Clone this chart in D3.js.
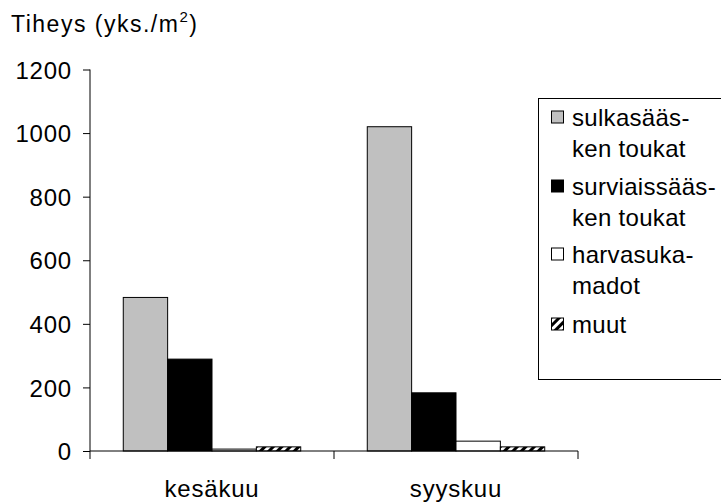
<!DOCTYPE html>
<html>
<head>
<meta charset="utf-8">
<script src="https://cdn.jsdelivr.net/npm/d3@7"></script>
<style>
  body { margin: 0; background: #fff; }
  text { font-family: "Liberation Sans", Arial, sans-serif; fill: #000; }
</style>
</head>
<body>
<div id="chart"></div>
<script>
// data
var categories = ["kesäkuu", "syyskuu"];
var seriesNames = ["sulkasääsken toukat", "surviaissääsken toukat", "harvasukamadot", "muut"];
var legendLines = [["sulkasääs-", "ken toukat"], ["surviaissääs-", "ken toukat"], ["harvasuka-", "madot"], ["muut"]];
var sulkasaasket = [483, 1020];
var surviaissaasket = [289, 183];
var harvasukamadot = [6, 31];
var muut = [13, 13];
var yTicks = [0, 200, 400, 600, 800, 1000, 1200];

var values = [sulkasaasket, surviaissaasket, harvasukamadot, muut];
var fills = ["#c0c0c0", "#000000", "#ffffff", "url(#hatch)"];

var width = 721, height = 504;
var plot = { left: 90, right: 578, top: 69.5, bottom: 451 };
var fontSize = "24px";

var svg = d3.select("#chart")
  .append("svg")
  .attr("width", width)
  .attr("height", height);

// diagonal hatch for "muut"
var pat = svg.append("defs").append("pattern")
  .attr("id", "hatch")
  .attr("patternUnits", "userSpaceOnUse")
  .attr("width", 6)
  .attr("height", 6)
  .attr("patternTransform", "rotate(45)");
pat.append("rect").attr("width", 6).attr("height", 6).attr("fill", "#fff");
pat.append("rect").attr("width", 3).attr("height", 6).attr("fill", "#000");

var x0 = d3.scaleBand()
  .domain(categories)
  .range([plot.left, plot.right]);

var x1 = d3.scaleBand()
  .domain(d3.range(seriesNames.length))
  .range([0, x0.bandwidth()])
  .paddingInner(0)
  .paddingOuter(0.75);

var y = d3.scaleLinear()
  .domain([0, 1200])
  .range([plot.bottom, plot.top]);

// y title
var title = svg.append("text")
  .attr("x", 11)
  .attr("y", 32)
  .style("font-size", "23px")
  .style("letter-spacing", "1.5px");
title.append("tspan").text("Tiheys (yks./m");
title.append("tspan").attr("dy", -10).style("font-size", "15px").text("2");
title.append("tspan").attr("dy", 10).text(")");

// bars
var groups = svg.selectAll(".cat")
  .data(categories)
  .enter().append("g")
  .attr("class", "cat")
  .attr("transform", function(d) { return "translate(" + x0(d) + ",0)"; });

groups.selectAll("rect")
  .data(function(d, ci) {
    return values.map(function(v, si) { return { s: si, v: v[ci] }; });
  })
  .enter().append("rect")
  .attr("x", function(d) { return x1(d.s); })
  .attr("y", function(d) { return y(d.v); })
  .attr("width", x1.bandwidth())
  .attr("height", function(d) { return y(0) - y(d.v); })
  .attr("fill", function(d) { return fills[d.s]; })
  .attr("stroke", "#000")
  .attr("stroke-width", 1);

// y axis
var yAxis = svg.append("g")
  .attr("transform", "translate(" + plot.left + ",0)")
  .call(d3.axisLeft(y).tickValues(yTicks).tickSize(7).tickPadding(11).tickFormat(d3.format("d")));
yAxis.selectAll("text").style("font-size", fontSize).style("letter-spacing", "0.8px").attr("dy", "0.36em");
yAxis.select(".domain").attr("d", "M0," + plot.top + "V" + plot.bottom);

// x axis
var xAxis = svg.append("g")
  .attr("transform", "translate(0," + plot.bottom + ")")
  .call(d3.axisBottom(x0).tickSize(0).tickPadding(0));
xAxis.selectAll("text")
  .style("font-size", fontSize)
  .style("letter-spacing", "0.8px")
  .attr("y", 46)
  .attr("dy", 0);
xAxis.select(".domain").attr("d", "M" + plot.left + ",0H" + plot.right);
xAxis.selectAll(".sep")
  .data([plot.left].concat(categories.map(function(c) { return x0(c) + x0.bandwidth(); })))
  .enter().append("line")
  .attr("class", "sep")
  .attr("x1", function(d) { return d; })
  .attr("x2", function(d) { return d; })
  .attr("y1", 0)
  .attr("y2", 8)
  .attr("stroke", "#000");

// legend
var legend = svg.append("g");
legend.append("rect")
  .attr("x", 538.5)
  .attr("y", 98.5)
  .attr("width", 200)
  .attr("height", 281)
  .attr("fill", "#fff")
  .attr("stroke", "#000");

var rowY = [117, 186, 254, 324];
var items = legend.selectAll(".item")
  .data(seriesNames)
  .enter().append("g")
  .attr("class", "item")
  .attr("transform", function(d, i) { return "translate(551," + rowY[i] + ")"; });

items.append("rect")
  .attr("x", 0.5)
  .attr("y", -6)
  .attr("width", 12)
  .attr("height", 12)
  .attr("fill", function(d, i) { return fills[i]; })
  .attr("stroke", "#000");

items.append("text")
  .style("font-size", fontSize)
  .style("letter-spacing", "0.3px")
  .selectAll("tspan")
  .data(function(d, i) { return legendLines[i]; })
  .enter().append("tspan")
  .attr("x", 21)
  .attr("y", function(d, j) { return j * 31; })
  .attr("dy", "0.36em")
  .text(function(d) { return d; });
</script>
</body>
</html>
